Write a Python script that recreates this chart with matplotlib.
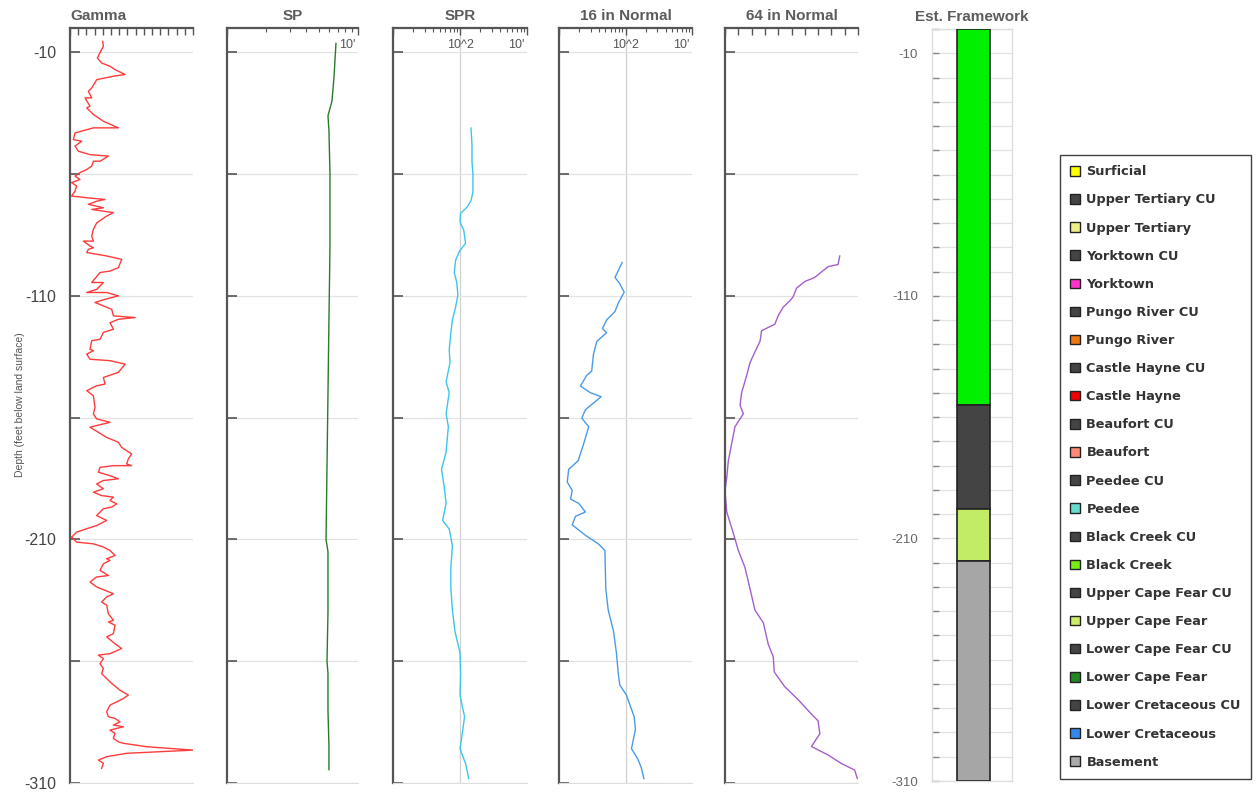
import matplotlib
matplotlib.use('Agg')
import matplotlib.pyplot as plt
import matplotlib.transforms as mtransforms
from matplotlib.patches import Patch
import numpy as np

# ---------------------------------------------------------------------------
# Geophysical well log panels with estimated hydrogeologic framework column
# ---------------------------------------------------------------------------

# --- Gamma (API, linear) ---
gamma_depth = [-5.5, -7.5, -9.6, -12.3, -14.4, -15.7, -17.1, -19.1, -19.8, -21.2,
               -24.6, -26.0, -28.7, -28.7, -32.1, -32.8, -35.5, -38.3, -41.0, -41.0,
               -43.1, -45.8, -46.5, -48.5, -50.6, -52.0, -52.6, -54.7, -54.7, -56.7,
               -58.1, -59.4, -60.8, -62.2, -63.5, -64.9, -67.0, -69.0, -69.7, -70.4,
               -71.1, -72.4, -73.8, -74.5, -75.8, -77.2, -80.0, -82.7, -85.4, -87.5,
               -87.5, -89.5, -90.2, -90.9, -92.2, -93.6, -95.0, -98.4, -99.8, -100.4,
               -104.5, -104.5, -107.3, -108.6, -108.6, -110.0, -111.4, -112.7, -115.5, -118.2,
               -118.9, -119.6, -121.0, -123.7, -125.0, -127.8, -128.4, -131.9, -132.5, -133.9,
               -136.0, -136.6, -138.0, -141.4, -143.5, -146.2, -146.9, -148.9, -151.0, -155.8,
               -158.5, -160.5, -161.9, -163.9, -166.0, -168.1, -170.1, -172.2, -174.9, -176.9,
               -179.0, -179.7, -179.7, -180.4, -182.4, -183.8, -185.1, -185.8, -187.2, -189.2,
               -190.6, -192.0, -192.6, -194.0, -195.4, -196.7, -197.4, -200.2, -202.2, -204.3,
               -205.6, -207.0, -209.0, -211.1, -211.8, -213.1, -214.5, -216.6, -217.9, -218.6,
               -220.0, -222.7, -224.8, -225.4, -227.5, -229.5, -230.9, -232.3, -233.6, -235.7,
               -237.0, -240.5, -243.2, -243.9, -245.2, -248.7, -250.0, -252.8, -254.8, -256.9,
               -257.5, -258.9, -261.0, -263.0, -265.1, -267.1, -269.1, -271.9, -273.9, -275.3,
               -276.7, -278.0, -280.8, -282.8, -283.5, -284.9, -286.2, -286.9, -288.3, -289.6,
               -291.7, -293.1, -293.7, -295.1, -296.5, -297.8, -299.2, -300.6, -301.9, -304.0]
gamma_api = [39.9, 40.7, 37.4, 33.4, 38.7, 48.8, 54.9, 67.2, 52.9, 32.6,
             26.5, 22.4, 26.5, 18.3, 24.4, 20.4, 28.5, 40.7, 59.0, 28.5,
             6.1, 4.1, 14.3, 6.1, 10.2, 24.4, 46.8, 36.6, 28.5, 26.5,
             20.4, 12.2, 6.1, 12.2, 2.0, 8.1, 6.1, 2.0, 20.4, 42.7,
             32.6, 22.4, 40.7, 26.5, 52.9, 44.8, 32.6, 28.5, 26.5, 28.5,
             16.3, 24.4, 28.5, 22.4, 20.4, 44.8, 63.1, 59.0, 48.8, 36.6,
             26.5, 40.7, 32.6, 20.4, 44.8, 59.0, 42.7, 30.5, 50.9, 52.9,
             79.4, 59.0, 48.8, 52.9, 40.7, 36.6, 26.5, 24.4, 28.5, 20.4,
             24.4, 48.8, 67.2, 59.0, 40.7, 42.7, 32.6, 20.4, 28.5, 30.5,
             28.5, 32.5, 48.8, 24.4, 34.6, 44.7, 59.0, 63.0, 75.2, 71.2,
             69.1, 75.2, 52.9, 36.6, 34.6, 48.8, 59.0, 40.7, 32.5, 40.7,
             28.5, 38.6, 52.9, 48.8, 57.0, 50.8, 40.7, 32.5, 44.7, 32.5,
             20.3, 8.1, 2.0, 8.1, 28.5, 40.7, 48.8, 54.9, 44.7, 48.8,
             40.7, 36.6, 46.8, 32.5, 24.4, 32.5, 42.7, 52.9, 44.7, 38.6,
             44.7, 46.8, 52.9, 46.8, 54.9, 52.9, 44.7, 54.9, 63.0, 48.8,
             34.6, 40.7, 36.6, 40.7, 38.6, 44.7, 50.8, 61.0, 71.2, 65.1,
             57.0, 48.8, 44.7, 46.8, 54.9, 61.0, 52.9, 65.1, 48.8, 54.9,
             52.9, 59.0, 65.1, 93.5, 150.0, 69.1, 44.7, 34.6, 40.7, 38.6]

# --- SP (log) ---
sp_depth = [-6.3, -20, -30, -36, -42, -60, -90, -120, -150, -180,
            -210, -215, -240, -260, -265, -280, -295, -304.5]
sp_val = [6.79, 6.56, 6.33, 5.90, 6.0, 6.11, 6.11, 6.0, 5.90, 5.80,
          5.70, 5.9, 5.9, 5.8, 5.9, 5.9, 6.0, 6.0]

# --- SPR (log) ---
spr_depth = [-41.1, -48.1, -55.1, -60.0, -67.4, -70.9, -73.5, -76.1, -79.6, -83.1,
             -88.4, -91.9, -95.4, -100.6, -104.1, -109.6, -114.6, -119.9, -125.1, -132.2,
             -137.4, -145.3, -149.7, -158.4, -163.7, -174.2, -181.2, -188.2, -195.2, -202.2,
             -205.7, -212.7, -221.5, -230.2, -239.0, -247.7, -256.5, -265.3, -274.0, -282.8,
             -289.8, -295.9, -302.0, -308.2]
spr_val = [146, 151, 151, 156, 156, 146, 128, 102, 100, 114,
           121, 97, 86, 82, 89, 93, 86, 77, 73, 69,
           71, 62, 69, 62, 67, 62, 53, 58, 62, 55,
           69, 77, 73, 73, 77, 84, 100, 102, 100, 117,
           108, 100, 121, 135]

# --- 16 in Normal (log) ---
n16_depth = [-96.3, -102.4, -105.0, -108.5, -112.9, -116.4, -119.9, -123.4, -125.1, -128.7,
             -133.9, -140.9, -142.7, -147.0, -149.7, -151.4, -156.7, -160.2, -163.7, -170.7,
             -177.7, -181.2, -186.4, -189.9, -193.4, -195.2, -198.7, -200.5, -204.0, -208.3,
             -211.8, -214.5, -230.2, -239.0, -247.7, -256.5, -265.3, -269.7, -274.0, -282.8,
             -288.0, -295.9, -300.3, -303.8, -308.2]
n16_val = [89, 69.5, 82, 95.5, 78, 69.5, 52, 45, 52, 37,
           33, 31, 26, 21, 29.5, 43, 25, 22, 28, 23.5,
           19.4, 14, 13.3, 15.8, 14.9, 19.8, 25, 17.7, 15.8, 25,
           39, 49, 50.5, 55, 66, 73, 78, 82, 103.5, 135,
           141, 123, 154, 173, 189]

# --- 64 in Normal (linear) ---
n64_depth = [-93.6, -97.1, -98.0, -102.4, -104.1, -106.8, -110.3, -112.0, -114.6, -118.1,
             -121.6, -124.3, -128.7, -133.0, -137.4, -142.7, -149.7, -154.9, -158.4, -163.7,
             -170.7, -177.7, -184.7, -189.9, -198.7, -207.5, -214.5, -221.5, -230.2, -239.0,
             -244.2, -253.0, -258.2, -264.4, -270.5, -275.8, -281.0, -284.5, -289.8, -295.0,
             -298.5, -302.0, -304.7, -308.2]
n64_val = [86.3, 85, 77.5, 67.5, 60, 53.8, 51.3, 48.8, 43.8, 40,
           37.5, 27.5, 26.3, 22.5, 18.8, 16.3, 12.5, 11.3, 13.8, 7.5,
           5, 2.5, 1.3, 0, 1.3, 6.3, 10, 15, 18.8, 22.5,
           28.8, 32.5, 36.3, 37, 45, 55, 63.8, 70, 71.3, 65,
           77.5, 87.5, 97.5, 99.5]

# --- Estimated framework column ---
fw_units = ['Black Creek', 'Upper Cape Fear CU', 'Upper Cape Fear', 'Basement']
fw_top = [0, -155, -197.8, -219.4]
fw_bottom = [-155, -197.8, -219.4, -310]
fw_colors = ['#00f000', '#444444', '#c2ec66', '#a6a6a6']

# --- Legend ---
legend_names = ['Surficial', 'Upper Tertiary CU', 'Upper Tertiary', 'Yorktown CU',
                'Yorktown', 'Pungo River CU', 'Pungo River', 'Castle Hayne CU',
                'Castle Hayne', 'Beaufort CU', 'Beaufort', 'Peedee CU', 'Peedee',
                'Black Creek CU', 'Black Creek', 'Upper Cape Fear CU', 'Upper Cape Fear',
                'Lower Cape Fear CU', 'Lower Cape Fear', 'Lower Cretaceous CU',
                'Lower Cretaceous', 'Basement']
legend_colors = ['#ffff00', '#444444', '#eeee88', '#444444', '#ff33cc', '#444444',
                 '#ee7711', '#444444', '#ee0000', '#444444', '#ff8877', '#444444',
                 '#66ddcc', '#444444', '#77ee11', '#444444', '#ccee66', '#444444',
                 '#228822', '#444444', '#3388ee', '#aaaaaa']

W, H = 1257, 793
fig = plt.figure(figsize=(W / 100, H / 100), dpi=100)
plt.rcParams['font.family'] = ['Liberation Sans', 'DejaVu Sans']

TITLE_C = '#5c5c5c'
SPINE_C = '#555555'
GRID_C = '#e2e2e2'
YLIM = (-310, 0)


def px_axes(x0, x1, y0, y1):
    return fig.add_axes([x0 / W, 1 - y1 / H, (x1 - x0) / W, (y1 - y0) / H])


def style_log_panel(ax, title, title_loc='center'):
    ax.set_ylim(*YLIM)
    ax.set_yticks(np.arange(-310, 0, 50))
    ax.yaxis.grid(True, color=GRID_C, lw=0.9)
    ax.set_axisbelow(True)
    ax.tick_params(axis='y', direction='in', length=7, width=1.2, color=SPINE_C,
                   labelleft=False)
    ax.xaxis.tick_top()
    ax.tick_params(axis='x', which='major', direction='in', length=5, width=1,
                   color=SPINE_C, labeltop=False)
    ax.tick_params(axis='x', which='minor', direction='in', length=3, width=0.8,
                   color=SPINE_C, labeltop=False)
    for s in ('left', 'top'):
        ax.spines[s].set_color(SPINE_C)
        ax.spines[s].set_linewidth(1.6)
    ax.spines['right'].set_visible(False)
    ax.spines['bottom'].set_color('#dddddd')
    ax.set_title(title, fontsize=11, fontweight='bold', color=TITLE_C, pad=6, loc=title_loc)


# Gamma
ax_g = px_axes(70, 193, 28, 783)
ax_g.plot(gamma_api, gamma_depth, color='#ff3b3b', lw=1.0)
ax_g.set_xlim(0, 150)
ax_g.set_xticks(np.arange(0, 151, 10))
style_log_panel(ax_g, 'Gamma', title_loc='left')
ax_g.tick_params(axis='y', labelleft=True, labelsize=11.5, labelcolor='#444444', pad=10)
ax_g.set_yticklabels([str(v) if (v + 10) % 100 == 0 else '' for v in np.arange(-310, 0, 50)])
fig.text(20 / W, 1 - 405 / H, 'Depth (feet below land surface)', rotation=90,
         ha='center', va='center', fontsize=7.5, color='#555555')

# SP
ax_sp = px_axes(227, 358, 28, 783)
ax_sp.plot(sp_val, sp_depth, color='#2a7a2a', lw=1.0)
ax_sp.set_xscale('log')
ax_sp.set_xlim(1, 10)
style_log_panel(ax_sp, 'SP')
ax_sp.text(0.985, 0.978, "10'", transform=ax_sp.transAxes, ha='right', va='center',
           fontsize=9, color='#555555')

# SPR and 16 in Normal
for x0, x1, vals, depths, color, title in [
        (393, 527, spr_val, spr_depth, '#3cc6ea', 'SPR'),
        (559, 692, n16_val, n16_depth, '#4a9be6', '16 in Normal')]:
    ax = px_axes(x0, x1, 28, 783)
    ax.plot(vals, depths, color=color, lw=1.0)
    ax.set_xscale('log')
    ax.set_xlim(10, 1000)
    style_log_panel(ax, title)
    ax.axvline(100, color='#d0d0d0', lw=0.9, zorder=0)
    tr = mtransforms.blended_transform_factory(ax.transData, ax.transAxes)
    ax.text(100, 0.978, '10^2', transform=tr, ha='center', va='center',
            fontsize=9, color='#555555')
    ax.text(0.985, 0.978, "10'", transform=ax.transAxes, ha='right', va='center',
            fontsize=9, color='#555555')

# 64 in Normal
ax_64 = px_axes(725, 858, 28, 783)
ax_64.plot(n64_val, n64_depth, color='#a35fcc', lw=1.0)
ax_64.set_xlim(0, 100)
ax_64.set_xticks(np.arange(0, 101, 10))
style_log_panel(ax_64, '64 in Normal')

# Framework column
ax_f = px_axes(932, 1012, 29, 781)
heights = [t - b for t, b in zip(fw_top, fw_bottom)]
ax_f.bar([0.5175] * len(fw_units), heights, bottom=fw_bottom, width=0.415,
         color=fw_colors, edgecolor='#222222', linewidth=1.2, zorder=3)
ax_f.set_xlim(0, 1)
ax_f.set_ylim(*YLIM)
ax_f.set_yticks(np.arange(-310, 1, 10))
ax_f.set_yticklabels([str(v) if (v + 10) % 100 == 0 else '' for v in np.arange(-310, 1, 10)])
ax_f.yaxis.grid(True, color=GRID_C, lw=0.9)
ax_f.set_axisbelow(True)
ax_f.set_xticks([])
ax_f.tick_params(axis='y', direction='in', length=5, width=1, color='#888888',
                 labelsize=9.5, labelcolor='#666666', pad=10)
for s in ax_f.spines.values():
    s.set_color('#dddddd')
    s.set_linewidth(1)
ax_f.set_title('Est. Framework', fontsize=11, fontweight='bold', color=TITLE_C, pad=6)

# Legend
handles = [Patch(facecolor=c, edgecolor='#222222', linewidth=1.0) for c in legend_colors]
leg = fig.legend(handles, legend_names, loc='upper left',
                 bbox_to_anchor=(1060 / W, 1 - 155 / H), frameon=True, fancybox=False,
                 handlelength=0.75, handleheight=0.75, handletextpad=0.5,
                 labelspacing=1.17, borderpad=0.8, borderaxespad=0,
                 prop={'family': 'DejaVu Sans', 'weight': 'bold', 'size': 9.3})
leg.get_frame().set_edgecolor('#111111')
leg.get_frame().set_linewidth(1.0)
for t in leg.get_texts():
    t.set_color('#333333')

fig.savefig('out.png', dpi=100)
